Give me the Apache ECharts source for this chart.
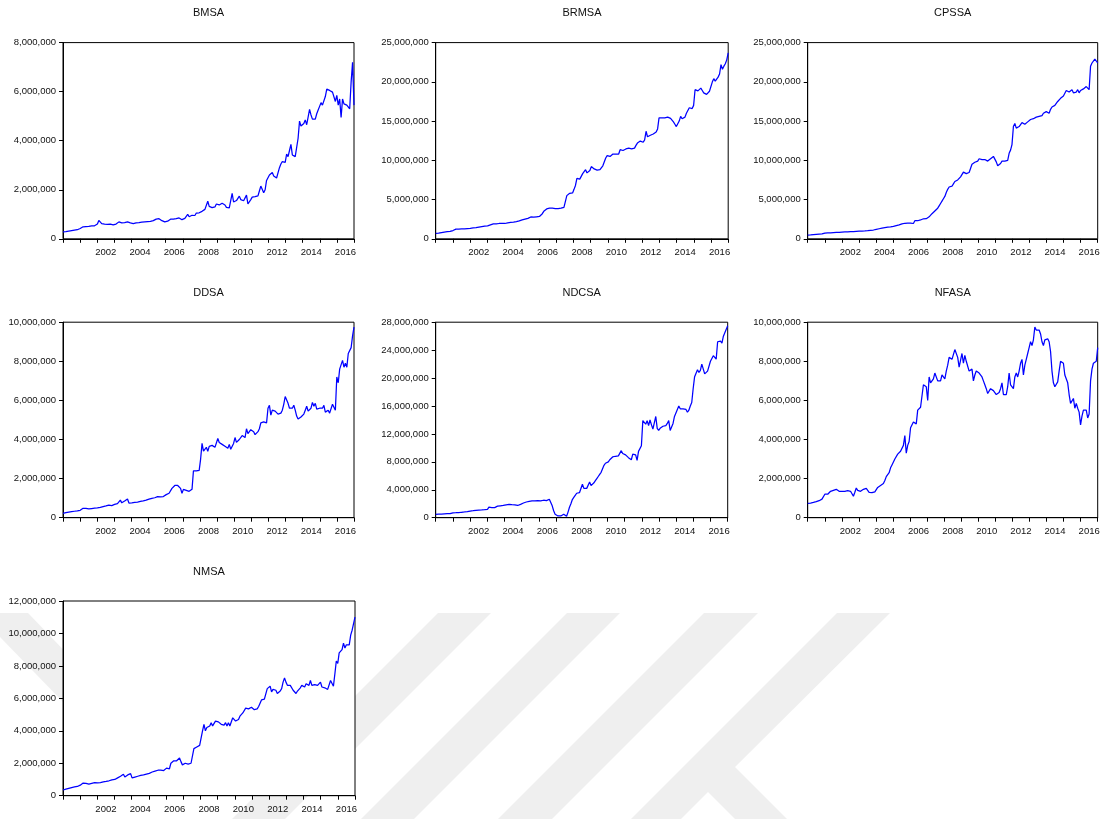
<!DOCTYPE html>
<html>
<head>
<meta charset="utf-8">
<title>Monetary aggregates, 2000–2016</title>
<script src="https://cdn.jsdelivr.net/npm/echarts@6/dist/echarts.min.js"></script>
<style>
  html, body { margin: 0; padding: 0; background: #ffffff; }
  #chart { width: 1105px; height: 819px; }
</style>
</head>
<body>
<div id="chart"></div>
<script>
// Year categories on the time axis (monthly observations, 2000M01–2016M12)
const years = ['2000','2001','2002','2003','2004','2005','2006','2007','2008',
               '2009','2010','2011','2012','2013','2014','2015','2016'];

// Monthly series, in thousands (one row per year)
const bmsa = [
  280, 285, 290, 300, 310, 320, 330, 340, 350, 360, 370, 380,
  420, 480, 490, 490, 500, 500, 510, 520, 530, 540, 530, 540,
  600, 750, 680, 620, 610, 600, 610, 590, 620, 600, 580, 570,
  570, 600, 640, 690, 670, 650, 640, 660, 670, 690, 670, 650,
  630, 620, 630, 650, 660, 660, 670, 680, 680, 690, 700, 700,
  700, 710, 720, 740, 770, 800, 830, 820, 790, 740, 710, 690,
  690, 720, 760, 800, 820, 800, 830, 820, 790, 850, 810, 780,
  800, 830, 880, 1000, 900, 920, 960, 980, 950, 1050, 1120, 1060,
  1060, 1120, 1180, 1200, 1280, 1530, 1320, 1280, 1270, 1280, 1300, 1420,
  1460, 1380, 1350, 1450, 1500, 1380, 1280, 1230, 1260, 1300, 1850, 1500,
  1480, 1560, 1640, 1740, 1600, 1520, 1550, 1620, 1780, 1420, 1500, 1600,
  1700, 1760, 1720, 1680, 1750, 1950, 2150, 2200, 1880, 2000, 2380, 2450,
  2600, 2680, 2700, 2560, 2500, 2480, 2520, 2900, 3050, 3150, 3100, 3120,
  3450, 3350, 3600, 3850, 3420, 3400, 3350, 3300, 4100, 4800, 4600, 4650,
  4700, 4850, 4650, 4620, 5280, 5050, 4880, 4850, 4880, 5100, 5250, 5400,
  5550, 5450, 5520, 5800, 6100, 6150, 6050, 6000, 5980, 5950, 5600, 5850,
  5450, 5700, 4950, 5700, 5500, 5450, 5450, 5400, 5300, 6400, 7200, 5450
];

const brmsa = [
  680, 700, 730, 760, 800, 830, 860, 880, 900, 920, 940, 960,
  1050, 1180, 1230, 1250, 1240, 1250, 1260, 1270, 1260, 1280, 1300, 1310,
  1330, 1350, 1380, 1400, 1430, 1470, 1500, 1530, 1560, 1600, 1620, 1640,
  1650, 1700, 1780, 1850, 1900, 2000, 1900, 1920, 1950, 2000, 1980, 1880,
  1950, 2000, 2030, 2050, 2080, 2100, 2130, 2150, 2200, 2250, 2280, 2320,
  2400, 2450, 2500, 2550, 2600, 2750, 2780, 2720, 2750, 2780, 2800, 2820,
  2850, 2950, 3200, 3500, 3700, 3800, 3850, 3900, 4050, 3900, 3700, 3850,
  3850, 3850, 3880, 3900, 3950, 4000, 4100, 5500, 5650, 5800, 5900, 5850,
  6300, 6800, 7700, 7650, 7600, 7800, 8300, 8400, 8800, 8400, 8600, 8700,
  9200, 9100, 8900, 8800, 8750, 8700, 8800, 8900, 9300, 9500, 10300, 10600,
  10700, 10500, 10700, 10800, 10850, 10800, 10750, 10800, 11350, 11200, 11250, 11300,
  11450, 11500, 11550, 11500, 11450, 11400, 11550, 11900, 12200, 12400, 12450, 12350,
  12300, 12600, 13700, 13000, 12900, 13200, 13400, 13350, 13500, 13600, 14000, 15400,
  15500, 15400, 15350, 15400, 15450, 15500, 15400, 15350, 15400, 14900, 14600, 14300,
  14500, 15000, 15600, 15300, 15350, 15500, 16000, 16100, 16700, 16500, 16600, 17000,
  19000, 18800, 18850, 18900, 19200, 18900, 18600, 18500, 18400, 18450, 18800, 18600,
  20000, 20400, 20100, 20300, 20600, 21000, 22200, 21600, 22000, 22300, 22800, 23700
];

const cpssa = [
  470, 480, 500, 520, 540, 560, 570, 590, 600, 610, 620, 640,
  720, 740, 750, 760, 770, 780, 790, 800, 810, 820, 830, 840,
  850, 860, 870, 880, 890, 900, 910, 920, 930, 940, 950, 960,
  970, 980, 990, 1000, 1010, 1020, 1040, 1060, 1080, 1100, 1120, 1150,
  1200, 1240, 1280, 1320, 1360, 1400, 1430, 1460, 1490, 1510, 1530, 1550,
  1580, 1620, 1680, 1730, 1780, 1830, 1900, 1950, 1980, 2000, 2010, 2000,
  2000, 1980, 1950, 2300, 2350, 2300, 2350, 2400, 2500, 2550, 2550, 2560,
  2570, 2800, 3000, 3200, 3400, 3550, 3700, 3900, 4200, 4500, 4800, 5100,
  5400, 5900, 6300, 6600, 6800, 6700, 7000, 7300, 7400, 7500, 7700, 7900,
  8100, 8500, 8350, 8300, 8400, 8450, 8600, 9500, 9700, 9750, 9800, 9900,
  10200, 10100, 10100, 10050, 10100, 10000, 9900, 10100, 10200, 10300, 10500, 10600,
  9800, 9300, 9400, 9600, 9900, 10000, 9900, 9950, 10000, 10900, 11300, 12000,
  14300, 14700, 14100, 14200, 14300, 14500, 14800, 14700, 14600, 14700, 14900, 15100,
  15200, 15000, 15300, 15400, 15500, 15500, 15600, 15700, 15700, 16000, 16200, 16200,
  16200, 16000, 16500, 16800, 16900, 17000, 17200, 17500, 17700, 17900, 18000, 18200,
  18300, 18900, 18800, 18700, 18600, 19000, 18600, 18500, 18700, 19000, 18600, 18900,
  19000, 19100, 19300, 19400, 19500, 19000, 22000, 22400, 22600, 22900, 22700, 22400
];

const ddsa = [
  220, 240, 260, 280, 290, 300, 310, 320, 330, 340, 350, 360,
  380, 420, 480, 500, 480, 460, 450, 460, 470, 480, 490, 500,
  500, 510, 530, 550, 570, 580, 600, 620, 640, 650, 620, 600,
  680, 700, 720, 750, 900, 760, 780, 850, 900, 960, 750, 740,
  760, 770, 780, 790, 800, 820, 830, 850, 860, 880, 900, 920,
  950, 970, 990, 1000, 1020, 1050, 1080, 1100, 1060, 1050, 1080, 1100,
  1180, 1220, 1250, 1350, 1500, 1600, 1650, 1550, 1650, 1750, 1500, 1250,
  1450, 1430, 1400, 1380, 1350, 1400, 1450, 2400, 2450, 2400, 2380, 2420,
  3000, 3800, 3400, 3500, 3600, 3400, 3650, 3550, 3700, 3800, 3600, 3700,
  4050, 3850, 3800, 3750, 3700, 3650, 3700, 3550, 3750, 3500, 3600, 3800,
  4100, 3850, 3950, 4000, 4100, 4200, 4150, 4100, 4550, 4300, 4400, 4500,
  4550, 4400, 4250, 4300, 4400, 4550, 4850, 4750, 4900, 4800, 4850, 5600,
  5750, 5250, 5500, 5450, 5450, 5450, 5300, 5200, 5350, 5500, 5800, 6200,
  6200, 5850, 5600, 5550, 5600, 5750, 5500, 5200, 5050, 5100, 5150, 5250,
  5300, 5500, 5700, 5450, 5500, 5600, 5900, 5700, 5850, 5550, 5600, 5600,
  5650, 5600, 5750, 5400, 5450, 5500, 5350, 5300, 5800, 5850, 5500, 7200,
  6900, 7600, 7500, 8050, 7700, 7900, 7700, 8400, 8500, 8700, 9300, 9750
];

const ndcsa = [
  480, 490, 500, 510, 520, 540, 560, 580, 600, 620, 580, 520,
  700, 700, 710, 720, 730, 750, 780, 800, 820, 850, 880, 900,
  950, 980, 1000, 1030, 1060, 1080, 1100, 1110, 1120, 1130, 1150, 1150,
  1200, 1500, 1480, 1450, 1400, 1450, 1550, 1650, 1800, 1700, 1600, 1750,
  1800, 1850, 1900, 1920, 1900, 1880, 1870, 1850, 1800, 1750, 1780, 1900,
  2000, 2100, 2200, 2250, 2300, 2350, 2350, 2400, 2400, 2400, 2420, 2450,
  2450, 2400, 2420, 2500, 2450, 2450, 2500, 2650, 2400, 1700, 1000, 500,
  350, 250, 200, 250, 300, 500, 350, 200, 800, 1500, 2000, 2600,
  2900, 3200, 3500, 3550, 3600, 3800, 4800, 4200, 4100, 4200, 4400, 5100,
  4600, 4800, 5000, 5300, 5600, 5900, 6200, 6500, 7000, 7500, 7800, 7900,
  8000, 8300, 8500, 8700, 8800, 8800, 8900, 8850, 9000, 9600, 9200, 9000,
  9000, 8800, 8600, 8500, 8300, 9100, 8900, 9000, 8200, 9500, 9700, 10300,
  13900, 13800, 13400, 13900, 13200, 14000, 13300, 12700, 12800, 14500, 12800, 12500,
  12800, 13000, 13100, 13300, 13200, 13500, 13900, 12500, 12600, 13500, 14500, 15000,
  15500, 16000, 15600, 15800, 15600, 15500, 15500, 15100, 15400, 16000, 16500, 18500,
  20200, 20700, 21200, 20800, 21100, 22000, 21800, 20600, 20600, 21000, 20800, 22400,
  22800, 23200, 23000, 22700, 25200, 25000, 25300, 25000, 26000, 26500, 27000, 27500
];

const nfasa = [
  730, 740, 750, 760, 780, 800, 820, 850, 870, 900, 950, 1050,
  1200, 1180, 1200, 1220, 1350, 1380, 1400, 1420, 1450, 1380, 1350, 1400,
  1350, 1400, 1350, 1300, 1380, 1400, 1350, 1320, 1100, 1300, 1520, 1400,
  1300, 1350, 1400, 1450, 1480, 1500, 1420, 1300, 1250, 1280, 1300, 1320,
  1400, 1550, 1600, 1650, 1700, 1750, 1900, 2100, 2200, 2300, 2550, 2700,
  2850, 3000, 3100, 3250, 3300, 3400, 3500, 3700, 4200, 3300, 3700, 3900,
  4600, 4700, 4900, 5000, 4800, 5500, 5600, 5650, 5700, 6800, 6700, 6700,
  6000, 7200, 6900, 7000, 7100, 7400, 7500, 7000, 6900, 7000, 7300, 7200,
  7100, 7500, 7800, 8200, 8250, 8100, 8000, 8600, 8700, 8200, 7700, 7600,
  8400, 7900, 8300, 8000, 7900, 7500, 7550, 7600, 7000, 7300, 7500, 7450,
  7400, 7350, 7200, 7000, 6800, 6600, 6350, 6450, 6600, 6550, 6500, 6400,
  6300, 6350, 6400, 6600, 6900, 6300, 6400, 6300, 6700, 7400, 6800, 6900,
  6600, 7200, 7400, 7200, 7500, 7900, 8100, 7300, 7800, 8100, 8400, 8700,
  9000, 8800, 9100, 9750, 9600, 9650, 9600, 9400, 9000, 8800, 9100, 9150,
  9150, 9000, 8500, 7500, 6900, 6700, 6700, 6950, 7500, 8000, 8050, 7900,
  7300, 7200, 6900, 6300, 5850, 5900, 6100, 5600, 5850, 5600, 5400, 4750,
  5200, 5500, 5400, 5500, 5100, 5300, 7000, 7600, 7900, 7850, 8000, 8700
];

const nmsa = [
  350, 370, 400, 420, 450, 480, 500, 520, 540, 550, 570, 590,
  650, 760, 780, 780, 760, 740, 720, 730, 760, 790, 800, 790,
  790, 800, 810, 830, 850, 860, 880, 900, 920, 950, 980, 1000,
  1000, 1050, 1100, 1150, 1200, 1250, 1320, 1150, 1200, 1280, 1340, 1360,
  1100, 1130, 1150, 1170, 1200, 1220, 1250, 1260, 1280, 1300, 1330, 1350,
  1380, 1420, 1460, 1500, 1520, 1550, 1570, 1600, 1580, 1560, 1550, 1600,
  1700, 1650, 1660, 2000, 2100, 2150, 2050, 2150, 2250, 2320, 2100, 1900,
  2000, 2000, 1980, 1950, 1960, 2000, 2000, 2900, 2950, 3000, 3000, 3100,
  3200, 4000, 4400, 4000, 4200, 4250, 4300, 4500, 4300, 4400, 4600, 4650,
  4550, 4500, 4400, 4450, 4350, 4500, 4300, 4500, 4300, 4400, 4800, 4900,
  4600, 4650, 4700, 4900, 5000, 5100, 5000, 5400, 5300, 5350, 5400, 5450,
  5500, 5300, 5200, 5350, 5500, 5600, 5900, 6000, 5950, 5900, 6600, 6700,
  6750, 6400, 6550, 6600, 6500, 6300, 6350, 6450, 6600, 7000, 7250, 7000,
  6800, 6700, 6800, 6900, 6500, 6400, 6300, 6450, 6550, 6650, 6800, 6700,
  6700, 6900, 7000, 6800, 7100, 6800, 6850, 6850, 6800, 6800, 6800, 7000,
  6700, 6700, 6650, 6600, 6550, 6600, 7100, 7000, 6750, 7500, 8300, 8150,
  8800, 8700, 9000, 9400, 9100, 9300, 9200, 9300, 9900, 10200, 10600, 11000
];

// Y-axis ranges (max and tick step) for each series
const yMax  = [8000000, 25000000, 25000000, 10000000, 28000000, 10000000, 12000000];
const yStep = [2000000,  5000000,  5000000,  2000000,  4000000,  2000000,  2000000];
const names = ['BMSA', 'BRMSA', 'CPSSA', 'DDSA', 'NDCSA', 'NFASA', 'NMSA'];
const seriesData = [bmsa, brmsa, cpssa, ddsa, ndcsa, nfasa, nmsa];

// Plot-area boxes [left, top, width, height] in pixels
const boxes = [
  [63.0, 42.6, 291.0, 196.2],
  [435.7, 42.6, 292.5, 196.2],
  [807.7, 42.6, 290.0, 196.2],
  [63.0, 322.2, 291.0, 195.5],
  [435.7, 322.2, 292.0, 195.5],
  [807.7, 322.2, 290.0, 195.5],
  [63.0, 601.0, 292.0, 194.7]
];

const TEXT = '#111111';
const FONT = 'Liberation Sans, Arial, sans-serif';

function withCommas(v) {
  return String(Math.round(v)).replace(/\B(?=(\d{3})+(?!\d))/g, ',');
}

const grid = [], xAxis = [], yAxis = [], series = [], title = [];

names.forEach(function (name, i) {
  const b = boxes[i];
  grid.push({
    left: b[0], top: b[1], width: b[2], height: b[3],
    show: true, backgroundColor: '#ffffff',
    borderColor: '#000000', borderWidth: 1
  });
  title.push({
    text: name,
    left: b[0] + b[2] / 2,
    top: b[1] - 35,
    textAlign: 'center',
    padding: 0,
    textStyle: { fontFamily: FONT, fontSize: 11, fontWeight: 'normal', color: TEXT }
  });
  // visible year axis: ticks at year boundaries, labels centred in each year
  xAxis.push({
    type: 'category', gridIndex: i, data: years, boundaryGap: true,
    axisLine: { show: true, onZero: false, lineStyle: { color: '#000', width: 1 } },
    axisTick: { show: true, interval: 0, alignWithLabel: false, length: 4, inside: false,
                lineStyle: { color: '#000', width: 1 } },
    axisLabel: {
      interval: function (idx, val) { const y = +val; return y >= 2002 && y % 2 === 0; },
      margin: 9, color: TEXT, fontFamily: FONT, fontSize: 9.5
    },
    splitLine: { show: false }
  });
  // hidden monthly position axis for the line
  xAxis.push({
    type: 'value', gridIndex: i, min: 0, max: seriesData[i].length - 1, show: false
  });
  yAxis.push({
    type: 'value', gridIndex: i, min: 0, max: yMax[i], interval: yStep[i],
    axisLine: { show: true, onZero: false, lineStyle: { color: '#000', width: 1 } },
    axisTick: { show: true, length: 4, inside: false, lineStyle: { color: '#000', width: 1 } },
    axisLabel: { formatter: withCommas, margin: 7, color: TEXT, fontFamily: FONT, fontSize: 9.5 },
    splitLine: { show: false }
  });
  series.push({
    type: 'line', name: name,
    xAxisIndex: 2 * i + 1, yAxisIndex: i,
    data: seriesData[i].map(function (v, j) { return [j, v * 1000]; }),
    showSymbol: false, symbol: 'none', silent: true, clip: true,
    lineStyle: { color: '#0000ff', width: 1.25 }
  });
});

// faint diagonal watermark bands in the lower part of the page
const bandFill = '#efefef';
const bands = [
  [[0, 613], [28, 613], [100, 688], [100, 740], [0, 637]],
  [[438, 613], [491, 613], [285, 819], [232, 819]],
  [[567, 613], [620, 613], [414, 819], [361, 819]],
  [[704, 613], [758, 613], [552, 819], [498, 819]],
  [[837, 613], [890, 613], [735, 767], [787, 819], [735, 819], [708, 792], [681, 819], [631, 819]]
];

const chart = echarts.init(document.getElementById('chart'), null, { renderer: 'canvas' });
chart.setOption({
  animation: false,
  backgroundColor: '#ffffff',
  title: title,
  grid: grid,
  xAxis: xAxis,
  yAxis: yAxis,
  series: series,
  graphic: bands.map(function (pts) {
    return { type: 'polygon', z: -10, silent: true, shape: { points: pts }, style: { fill: bandFill } };
  })
});
</script>
</body>
</html>
